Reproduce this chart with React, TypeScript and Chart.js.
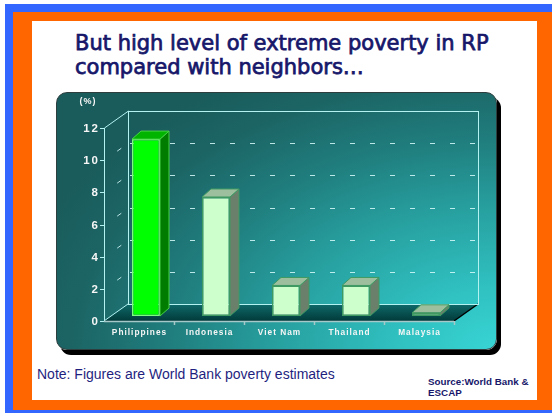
import React, { useEffect, useRef } from "react";
import { Chart, registerables } from "chart.js";

Chart.register(...registerables);

// ---- data ----
const categories = ["Philippines", "Indonesia", "Viet Nam", "Thailand", "Malaysia"];
const povertyRates = [11.0, 7.4, 1.9, 1.9, 0.2];
const yTickValues = [0, 2, 4, 6, 8, 10, 12];
const yUnitLabel = "(%)";
const highlightIndex = 0;

const titleLines = ["But high level of extreme poverty in RP", "compared with neighbors…"];
const noteText = "Note: Figures are World Bank poverty estimates";
const sourceLines = ["Source:World Bank &", "ESCAP"];

// ---- 3D look ----
const DEPTH_X = 24;
const DEPTH_Y = -17;
const BAR_DX = 7;
const BAR_DY = -5;
const FACE_DX = 9;
const FACE_DY = -8;

const NAVY = "#17176a";

const pseudo3d = {
  id: "pseudo3d",
  beforeDatasetsDraw(chart: any) {
    const { ctx, chartArea: a, scales } = chart;
    const x = scales.x;
    const y = scales.y;
    const L = a.left;
    const R = a.right;
    const B = y.getPixelForValue(0);
    const T = y.getPixelForValue(yTickValues[yTickValues.length - 1]);

    ctx.save();
    // floor
    const g = ctx.createLinearGradient(0, B + DEPTH_Y, 0, B);
    g.addColorStop(0, "#0f6a6a");
    g.addColorStop(1, "#023a3a");
    ctx.fillStyle = g;
    ctx.beginPath();
    ctx.moveTo(L, B);
    ctx.lineTo(R, B);
    ctx.lineTo(R + DEPTH_X, B + DEPTH_Y);
    ctx.lineTo(L + DEPTH_X, B + DEPTH_Y);
    ctx.closePath();
    ctx.fill();

    // right floor edge (dark)
    ctx.strokeStyle = "#000";
    ctx.lineWidth = 1.5;
    ctx.beginPath();
    ctx.moveTo(R, B);
    ctx.lineTo(R + DEPTH_X, B + DEPTH_Y);
    ctx.stroke();

    // walls
    ctx.strokeStyle = "#b4f2f2";
    ctx.lineWidth = 1;
    ctx.strokeRect(L + DEPTH_X + 0.5, T + DEPTH_Y + 0.5, R - L, B - T);
    ctx.beginPath();
    ctx.moveTo(L + 0.5, B);
    ctx.lineTo(L + 0.5, T);
    ctx.lineTo(L + DEPTH_X + 0.5, T + DEPTH_Y);
    ctx.moveTo(L, B);
    ctx.lineTo(L + DEPTH_X, B + DEPTH_Y);
    ctx.stroke();

    // dashed grid lines on back wall + side wall
    ctx.strokeStyle = "rgba(215,250,250,0.85)";
    for (const v of yTickValues) {
      if (v === 0 || v === yTickValues[yTickValues.length - 1]) continue;
      const py = Math.round(y.getPixelForValue(v)) + 0.5;
      ctx.setLineDash([5, 15]);
      ctx.beginPath();
      ctx.moveTo(L + DEPTH_X + 2, py + DEPTH_Y);
      ctx.lineTo(R + DEPTH_X, py + DEPTH_Y);
      ctx.stroke();
      ctx.setLineDash([]);
      ctx.beginPath();
      ctx.moveTo(L + DEPTH_X * 0.55, py + DEPTH_Y * 0.55);
      ctx.lineTo(L + DEPTH_X * 0.72, py + DEPTH_Y * 0.72);
      ctx.stroke();
    }

    // front floor edge + category ticks
    ctx.strokeStyle = "#a6c8c8";
    ctx.lineWidth = 1.5;
    ctx.beginPath();
    ctx.moveTo(L, B + 0.5);
    ctx.lineTo(R, B + 0.5);
    const n = categories.length;
    const step = (R - L) / n;
    for (let i = 1; i <= n; i++) {
      const px = Math.round(L + step * i) + 0.5;
      ctx.moveTo(px, B);
      ctx.lineTo(px, B + 4);
    }
    ctx.stroke();

    // y ticks and labels
    ctx.strokeStyle = "#b4f2f2";
    ctx.lineWidth = 1;
    ctx.fillStyle = "#f6f6f6";
    (ctx as any).letterSpacing = "2px";
    ctx.font = "bold 11.5px 'Liberation Sans', Arial, sans-serif";
    ctx.textAlign = "right";
    ctx.textBaseline = "middle";
    for (const v of yTickValues) {
      const py = Math.round(y.getPixelForValue(v)) + 0.5;
      ctx.beginPath();
      ctx.moveTo(L - 4, py);
      ctx.lineTo(L, py);
      ctx.stroke();
      ctx.fillText(String(v), L - 4, py + 0.5);
    }
    (ctx as any).letterSpacing = "1px";
    ctx.font = "bold 9px 'Liberation Sans', Arial, sans-serif";
    ctx.textAlign = "center";
    ctx.fillText(yUnitLabel, L - 16, T - 26);

    // x labels
    ctx.font = "bold 8.3px 'Liberation Sans', Arial, sans-serif";
    (ctx as any).letterSpacing = "1px";
    ctx.textBaseline = "alphabetic";
    categories.forEach((c, i) => {
      ctx.fillText(c, x.getPixelForValue(i) + 0.5, B + 14);
    });
    ctx.restore();

    ctx.save();
    ctx.translate(BAR_DX, BAR_DY);
  },
  afterDatasetsDraw(chart: any) {
    const { ctx } = chart;
    ctx.restore();
    const meta = chart.getDatasetMeta(0);
    ctx.save();
    ctx.translate(BAR_DX, BAR_DY);
    meta.data.forEach((bar: any, i: number) => {
      const { x, y, base, width } = bar.getProps(["x", "y", "base", "width"], true);
      const hi = i === highlightIndex;
      const l = x - width / 2;
      const r = x + width / 2;
      // side face
      ctx.fillStyle = hi ? "#007d00" : "#6b806b";
      ctx.strokeStyle = hi ? "#46d046" : "#3f9a62";
      ctx.lineWidth = 1;
      ctx.beginPath();
      ctx.moveTo(r, y);
      ctx.lineTo(r + FACE_DX, y + FACE_DY);
      ctx.lineTo(r + FACE_DX, base + FACE_DY);
      ctx.lineTo(r, base);
      ctx.closePath();
      ctx.fill();
      ctx.stroke();
      // top face
      ctx.fillStyle = hi ? "#00b400" : "#9dbf9d";
      ctx.beginPath();
      ctx.moveTo(l, y);
      ctx.lineTo(r, y);
      ctx.lineTo(r + FACE_DX, y + FACE_DY);
      ctx.lineTo(l + FACE_DX, y + FACE_DY);
      ctx.closePath();
      ctx.fill();
      ctx.stroke();
    });
    ctx.restore();
  },
};

export default function App() {
  const ref = useRef<HTMLCanvasElement>(null);

  useEffect(() => {
    const chart = new Chart(ref.current as HTMLCanvasElement, {
      type: "bar",
      data: {
        labels: categories,
        datasets: [
          {
            data: povertyRates,
            backgroundColor: categories.map((_, i) => (i === highlightIndex ? "#00ff00" : "#ccffcc")),
            borderColor: categories.map((_, i) => (i === highlightIndex ? "#7cff7c" : "#3f9a62")),
            borderWidth: 1.5,
            borderSkipped: false,
            barPercentage: 0.4,
            categoryPercentage: 1,
          },
        ],
      },
      options: {
        responsive: false,
        animation: false,
        events: [],
        layout: { padding: { left: 47, right: 43, top: 35, bottom: 29 } },
        plugins: { legend: { display: false }, tooltip: { enabled: false } },
        scales: {
          x: { display: false },
          y: { display: false, min: 0, max: 12 },
        },
      } as any,
      plugins: [pseudo3d as any],
    });
    return () => chart.destroy();
  }, []);

  return (
    <div style={{ position: "absolute", left: 0, top: 0, width: 552, height: 413, background: "#fff", overflow: "hidden" }}>
      <div style={{ position: "absolute", left: 5, top: 4, width: 547, height: 409, background: "#3366ff" }} />
      <div style={{ position: "absolute", left: 13, top: 12, width: 539, height: 398, background: "#ff6600" }} />
      <div style={{ position: "absolute", left: 32, top: 21, width: 505, height: 379, background: "#ffffff" }} />
      <div
        style={{
          position: "absolute",
          left: 75,
          top: 31,
          fontFamily: "'DejaVu Sans', Verdana, sans-serif",
          fontSize: 21,
          lineHeight: "24px",
          color: NAVY,
          WebkitTextStroke: `0.75px ${NAVY}`,
          whiteSpace: "nowrap",
        }}
      >
        {titleLines.map((t, i) => (
          <div key={i}>{t}</div>
        ))}
      </div>
      <div
        style={{
          position: "absolute",
          left: 56,
          top: 92,
          width: 441,
          height: 258,
          boxSizing: "border-box",
          borderRadius: 11,
          border: "1px solid #2e3e3e",
          boxShadow: "4px 5px 0 #000",
          background:
            "radial-gradient(ellipse 500px 320px at 100% 100%, #38d4d4 0%, #30c0c0 20%, #279e9e 45%, #207e7e 65%, #1c6464 85%, #1a5b5b 100%)",
        }}
      />
      <canvas
        ref={ref}
        width={440}
        height={257}
        style={{ position: "absolute", left: 57, top: 93, width: 440, height: 257 }}
      />
      <div
        style={{
          position: "absolute",
          left: 37,
          top: 366,
          fontFamily: "'Liberation Sans', Arial, sans-serif",
          fontSize: 14,
          lineHeight: "16px",
          color: "#1f1f80",
          whiteSpace: "nowrap",
        }}
      >
        {noteText}
      </div>
      <div
        style={{
          position: "absolute",
          left: 428,
          top: 376,
          fontFamily: "'Liberation Sans', Arial, sans-serif",
          fontSize: 9.8,
          fontWeight: "bold",
          lineHeight: "11px",
          color: NAVY,
          whiteSpace: "nowrap",
        }}
      >
        {sourceLines.map((t, i) => (
          <div key={i}>{t}</div>
        ))}
      </div>
    </div>
  );
}
